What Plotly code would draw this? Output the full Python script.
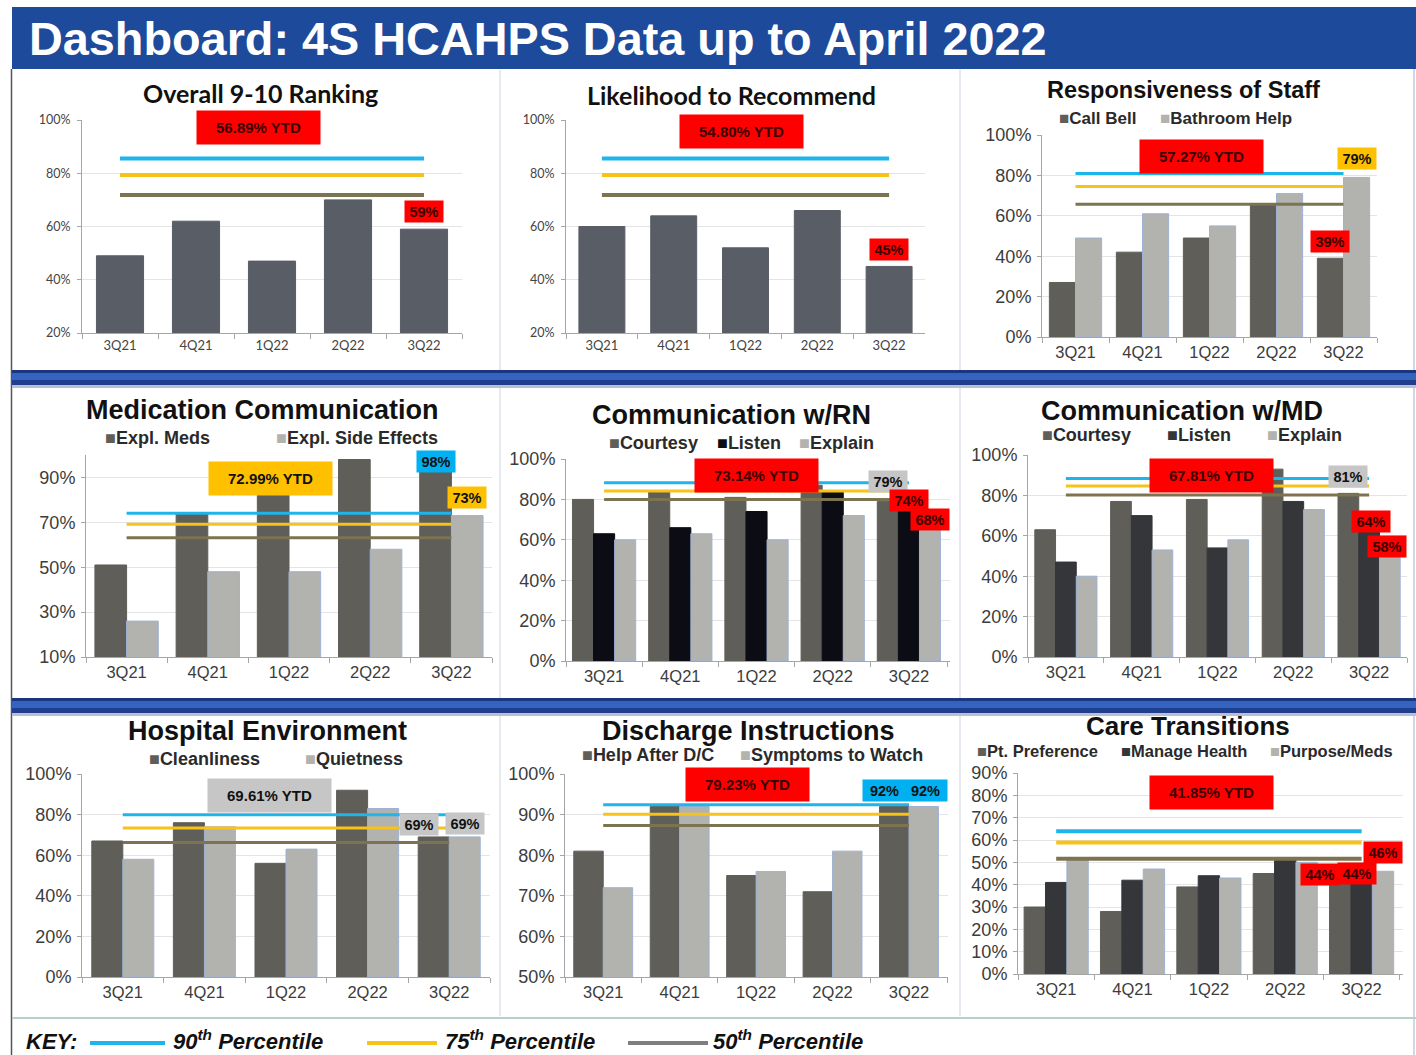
import plotly.graph_objects as go

W, H = 1416, 1055

quarters = ["3Q21", "4Q21", "1Q22", "2Q22", "3Q22"]

# bar values (%)
overall_9_10 = [49, 62, 47, 70, 59]
recommend = [60, 64, 52, 66, 45]
call_bell = [27, 42, 49, 66, 39]
bathroom_help = [49, 61, 55, 71, 79]
expl_meds = [51, 74, 83, 98, 98]
expl_side_effects = [26, 48, 48, 58, 73]
rn_courtesy = [80, 84, 81, 87, 79]
rn_listen = [63, 66, 74, 84, 74]
rn_explain = [60, 63, 60, 72, 68]
md_courtesy = [63, 77, 78, 93, 81]
md_listen = [47, 70, 54, 77, 64]
md_explain = [40, 53, 58, 73, 58]
cleanliness = [67, 76, 56, 92, 69]
quietness = [58, 74, 63, 83, 69]
help_after_dc = [81, 92, 75, 71, 92]
symptoms_to_watch = [72, 92, 76, 81, 92]
pt_preference = [30, 28, 39, 45, 44]
manage_health = [41, 42, 44, 51, 44]
purpose_meds = [52, 47, 43, 50, 46]

# per panel: YTD score and benchmark percentiles
ytd = [56.89, 54.80, 57.27, 72.99, 73.14, 67.81, 69.61, 79.23, 41.85]
p90 = [85.5, 85.5, 81, 74, 88.3, 88.4, 79.9, 92.4, 63.9]
p75 = [79.3, 79.3, 74.5, 69.1, 84.2, 84.6, 73.4, 90.1, 58.9]
p50 = [71.8, 71.8, 65.7, 63.1, 80, 80.2, 66.2, 87.3, 51.6]

SLATE = "#595d66"
DARK = "#5f5e58"
LIGHT = "#b2b2af"
BLACK = "#0c0c14"
CHAR = "#34363a"
RED = "#ff0000"
YEL = "#ffc000"
BLU = "#00b0f0"
GRY = "#c6c6c6"
L90, L75, L50 = "#1fb4ea", "#f7c21a", "#7c7350"
ARIAL = "Liberation Sans, Arial, sans-serif"
CAL = "Lato, Open Sans, sans-serif"

panels = [
    dict(title="Overall 9-10 Ranking", box=(82, 462, 120, 333), yr=(20, 100), yt=[20, 40, 60, 80, 100],
         series=[("", overall_9_10, SLATE)], group=0.62, ytd_bg=RED, ytd_at=(258, 127),
         title_at=(260, 93), cal=True, lw=4, legend=[],
         labels=[(0, 4, RED, "bottom", 6, 0)]),
    dict(title="Likelihood to Recommend", box=(566, 925, 120, 333), yr=(20, 100), yt=[20, 40, 60, 80, 100],
         series=[("", recommend, SLATE)], group=0.64, ytd_bg=RED, ytd_at=(741, 132),
         title_at=(732, 95), cal=True, lw=4, legend=[],
         labels=[(0, 4, RED, "bottom", 5, 0)]),
    dict(title="Responsiveness of Staff", box=(1042, 1377, 135, 337), yr=(0, 100), yt=[0, 20, 40, 60, 80, 100],
         series=[("Call Bell", call_bell, DARK), ("Bathroom Help", bathroom_help, LIGHT)], group=0.78,
         ytd_bg=RED, ytd_at=(1201, 157), title_at=(1183, 90), tsize=23.5, lw=3,
         legend=[1057, 1158], legend_y=118, lsize=17,
         labels=[(1, 4, YEL, "bottom", 7, 0), (0, 4, RED, "bottom", 5, 0)]),
    dict(title="Medication Communication", box=(86, 492, 455, 657), yr=(10, 100), yt=[10, 30, 50, 70, 90],
         series=[("Expl. Meds", expl_meds, DARK), ("Expl. Side Effects", expl_side_effects, LIGHT)], group=0.78,
         ytd_bg=YEL, ytd_at=(270, 478), title_at=(262, 410), lw=3,
         legend=[103, 274], legend_y=438,
         labels=[(0, 4, BLU, "middle", -2, 0), (1, 4, YEL, "bottom", 7, 0)]),
    dict(title="Communication w/RN", box=(566, 950, 459, 661), yr=(0, 100), yt=[0, 20, 40, 60, 80, 100],
         series=[("Courtesy", rn_courtesy, DARK), ("Listen", rn_listen, BLACK), ("Explain", rn_explain, LIGHT)],
         group=0.83, ytd_bg=RED, ytd_at=(756, 475), title_at=(732, 415), lw=3,
         legend=[607, 715, 797], legend_y=443,
         labels=[(0, 4, GRY, "bottom", 8, 0), (1, 4, RED, "bottom", 0, 0), (2, 4, RED, "middle", 4, 0)]),
    dict(title="Communication w/MD", box=(1028, 1407, 455, 657), yr=(0, 100), yt=[0, 20, 40, 60, 80, 100],
         series=[("Courtesy", md_courtesy, DARK), ("Listen", md_listen, CHAR), ("Explain", md_explain, LIGHT)],
         group=0.82, ytd_bg=RED, ytd_at=(1211, 475), title_at=(1182, 411), lw=3,
         legend=[1040, 1165, 1265], legend_y=435,
         labels=[(0, 4, GRY, "bottom", 5, 0), (1, 4, RED, "middle", 6, 2), (2, 4, RED, "middle", -7, -3)]),
    dict(title="Hospital Environment", box=(82, 490, 774, 977), yr=(0, 100), yt=[0, 20, 40, 60, 80, 100],
         series=[("Cleanliness", cleanliness, DARK), ("Quietness", quietness, LIGHT)], group=0.76,
         ytd_bg=GRY, ytd_at=(269, 795), title_at=(267, 731), lw=3,
         legend=[147, 303], legend_y=759,
         labels=[(0, 4, GRY, "bottom", 1, -15), (1, 4, GRY, "bottom", 2, 0)]),
    dict(title="Discharge Instructions", box=(565, 948, 774, 977), yr=(50, 100), yt=[50, 60, 70, 80, 90, 100],
         series=[("Help After D/C", help_after_dc, DARK), ("Symptoms to Watch", symptoms_to_watch, LIGHT)],
         group=0.77, ytd_bg=RED, ytd_at=(747, 784), title_at=(748, 731), lw=3,
         legend=[580, 738], legend_y=755,
         labels=[(None, 4, BLU, "bottom", 4, -4)]),
    dict(title="Care Transitions", box=(1018, 1403, 773, 974), yr=(0, 90), yt=list(range(0, 91, 10)),
         series=[("Pt. Preference", pt_preference, DARK), ("Manage Health", manage_health, CHAR),
                 ("Purpose/Meds", purpose_meds, LIGHT)],
         group=0.84, ytd_bg=RED, ytd_at=(1211, 792), title_at=(1188, 726), tsize=26, lw=4,
         legend=[975, 1119, 1268], legend_y=751, lsize=16.5,
         labels=[(0, 4, RED, "middle", 1, -20), (1, 4, RED, "middle", 2, -5), (2, 4, RED, "bottom", 7, 0)]),
]


def px(x):
    return x / W


def py(y):
    return 1 - y / H


def note(x, y, text, **kw):
    # paper-anchored text, centred unless told otherwise
    d = dict(x=px(x), y=py(y), xref="paper", yref="paper", showarrow=False, text=text,
             xanchor="center", yanchor="middle")
    d.update(kw)
    return d


fig = go.Figure()
annotations = []
shapes = []
layout = {}

for k, p in enumerate(panels):
    sfx = "" if k == 0 else str(k + 1)
    xa, ya = "x" + sfx, "y" + sfx
    x0, x1, yt0, yb0 = p["box"]
    cal = p.get("cal", False)
    n = len(p["series"])
    w = p["group"] / n

    for i, (name, vals, col) in enumerate(p["series"]):
        edge = "#9fb2d6" if col == LIGHT else col
        fig.add_trace(go.Bar(x=quarters, y=vals, name=name, marker=dict(color=col, line=dict(color=edge, width=1)),
                             width=w, offset=-p["group"] / 2 + w * i, xaxis=xa, yaxis=ya, showlegend=False))

    for val, col in [(p90[k], L90), (p75[k], L75), (p50[k], L50)]:
        fig.add_trace(go.Scatter(x=[quarters[0], quarters[-1]], y=[val, val], mode="lines",
                                 line=dict(color=col, width=p["lw"]), xaxis=xa, yaxis=ya,
                                 showlegend=False, hoverinfo="skip"))

    tick_font = dict(family=CAL if cal else ARIAL, size=12.5 if cal else 18, color="#444444" if cal else "#3c3c3c")
    layout["xaxis" + sfx] = dict(domain=[px(x0), px(x1)], anchor=ya, type="category", showline=True,
                                 linecolor="#a6a6a6", ticks="outside", tickson="boundaries", ticklen=5,
                                 tickcolor="#a6a6a6", showgrid=False,
                                 tickfont=dict(family=tick_font["family"], size=13 if cal else 16.5,
                                               color=tick_font["color"]))
    layout["yaxis" + sfx] = dict(domain=[py(yb0), py(yt0)], anchor=xa, range=list(p["yr"]), tickmode="array",
                                 tickvals=p["yt"], ticktext=["%d%%" % t for t in p["yt"]], showline=True,
                                 linecolor="#a6a6a6", ticks="outside", ticklen=4, tickcolor="#a6a6a6",
                                 gridcolor="#e4e4e4", zeroline=False, tickfont=tick_font,
                                 ticklabelstandoff=4 if cal else 2)

    # panel title
    tx, ty = p["title_at"]
    annotations.append(note(tx, ty, "<b>%s</b>" % p["title"],
                            font=dict(family=CAL if cal else ARIAL, size=25 if cal else p.get("tsize", 27),
                                      color="#111111")))

    # legend text
    for lx, (name, vals, col) in zip(p["legend"], p["series"]):
        annotations.append(note(lx, p["legend_y"], "<b><span style='color:%s'>■</span>%s</b>" % (col, name),
                                xanchor="left", font=dict(family=ARIAL, size=p.get("lsize", 18), color="#2a2a2a")))

    # YTD box
    bx, by = p["ytd_at"]
    annotations.append(note(bx, by, "<b>%.2f%% YTD</b>" % ytd[k], bgcolor=p["ytd_bg"], width=121, height=31,
                            borderpad=1,
                            font=dict(family=ARIAL, size=15,
                                      color="#3a0000" if p["ytd_bg"] == RED else "#111111")))

    # value call-outs on the latest quarter
    for (i, c, bg, anch, ysh, xsh) in p["labels"]:
        if i is None:
            txt = "&nbsp;&nbsp;&nbsp;".join("%d%%" % s[1][c] for s in p["series"])
            xpos, yval, bw = c, max(s[1][c] for s in p["series"]), 82
        else:
            txt = "%d%%" % p["series"][i][1][c]
            xpos, yval, bw = c - p["group"] / 2 + w * (i + 0.5), p["series"][i][1][c], 36
        annotations.append(dict(x=xpos, y=yval, xref=xa, yref=ya, showarrow=False, text="<b>%s</b>" % txt,
                                bgcolor=bg, width=bw, height=19, borderpad=1, xanchor="center", yanchor=anch,
                                yshift=ysh, xshift=xsh,
                                font=dict(family=ARIAL, size=14.5,
                                          color="#3a0000" if bg == RED else "#111111")))

# title banner
shapes.append(dict(type="rect", xref="paper", yref="paper", x0=px(12), x1=px(1416), y0=py(69), y1=py(7),
                   fillcolor="#1d4a9b", line=dict(width=0)))
annotations.append(note(27, 39, "<b>Dashboard: 4S HCAHPS Data up to April 2022</b>", xanchor="left",
                        font=dict(family=ARIAL, size=46.8, color="white")))

# frame and row separators
shapes.append(dict(type="line", xref="paper", yref="paper", x0=px(11.5), x1=px(11.5), y0=py(1055), y1=py(69),
                   line=dict(color="#555555", width=1.5)))
shapes.append(dict(type="line", xref="paper", yref="paper", x0=px(1414), x1=px(1414), y0=py(1055), y1=py(69),
                   line=dict(color="#c0cbe0", width=1.5)))
for top in (370, 698):
    for a, b, col in [(top, top + 3, "#1a3680"), (top + 3, top + 10, "#3563c0"), (top + 10, top + 15, "#1f3f8e"),
                      (top + 15, top + 18, "#b9c0d2")]:
        shapes.append(dict(type="rect", xref="paper", yref="paper", x0=px(12), x1=px(1416), y0=py(b), y1=py(a),
                           fillcolor=col, line=dict(width=0)))
for vx in (500, 960):
    for a, b in [(70, 370), (388, 698), (716, 1016)]:
        shapes.append(dict(type="line", xref="paper", yref="paper", x0=px(vx), x1=px(vx), y0=py(b), y1=py(a),
                           line=dict(color="#cdd4df", width=1)))
shapes.append(dict(type="line", xref="paper", yref="paper", x0=px(12), x1=px(1416), y0=py(1018), y1=py(1018),
                   line=dict(color="#b8d0cc", width=2)))

# key
annotations.append(note(24, 1041, "<b><i>KEY:</i></b>", xanchor="left",
                        font=dict(family=ARIAL, size=22, color="#111111")))
for (a, b, col), (tx, lab) in zip([(90, 165, L90), (367, 437, L75), (628, 708, "#7f7f7f")],
                                  [(171, "90"), (443, "75"), (711, "50")]):
    shapes.append(dict(type="line", xref="paper", yref="paper", x0=px(a), x1=px(b), y0=py(1043), y1=py(1043),
                       line=dict(color=col, width=4)))
    annotations.append(note(tx, 1040, "<b><i>%s<sup>th</sup> Percentile</i></b>" % lab, xanchor="left",
                            font=dict(family=ARIAL, size=22, color="#111111")))

fig.update_layout(width=W, height=H, margin=dict(l=0, r=0, t=0, b=0, autoexpand=False), paper_bgcolor="white",
                  plot_bgcolor="white", barmode="group", annotations=annotations, shapes=shapes,
                  font=dict(family=ARIAL), **layout)

fig.write_html("out.html", config={"displayModeBar": False}, post_script="document.body.style.margin='0';")
